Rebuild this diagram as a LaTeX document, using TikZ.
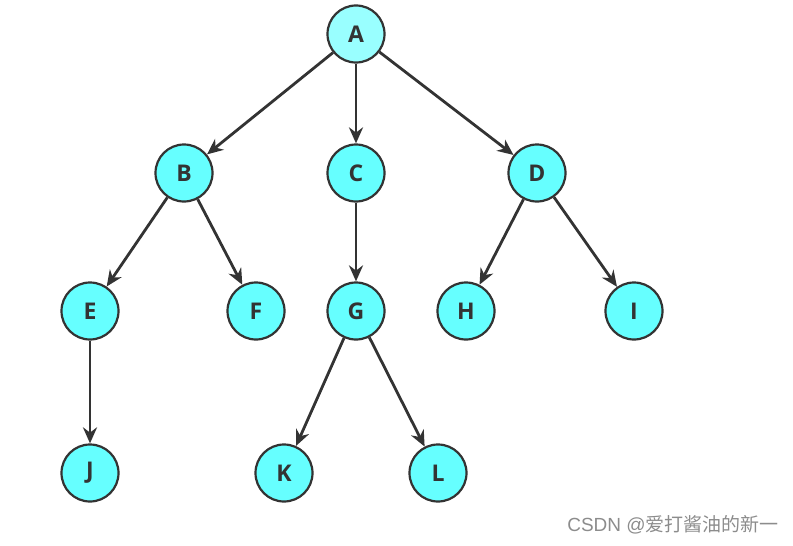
\documentclass[tikz,border=0pt]{standalone}
\usepackage{fontspec}
\setmainfont{Liberation Sans}
\newfontfamily\nodefont{Open Sans}
\newfontfamily\cjk{Noto Sans CJK SC}
\usetikzlibrary{arrows.meta}
\definecolor{nodefill}{RGB}{102,255,255}
\definecolor{rootfill}{RGB}{153,255,255}
\definecolor{edge}{RGB}{51,51,51}
\tikzset{
  tnode/.style={circle, draw=edge, line width=2.2pt, fill=nodefill, minimum size=57pt, inner sep=0pt, font=\nodefont\fontsize{23}{23}\selectfont\bfseries, text=edge},
  conn/.style={draw=edge, line width=2.8pt, -{Stealth[length=16pt,width=14pt]}}
}
\begin{document}
\begin{tikzpicture}[x=1pt,y=-1pt]
\useasboundingbox (0,0) rectangle (793,546);
\node[tnode, fill=rootfill] (A) at (356,34) {A};
\node[tnode] (B) at (184,173) {B};
\node[tnode] (C) at (356,173) {C};
\node[tnode] (D) at (537,173) {D};
\node[tnode] (E) at (90,311) {E};
\node[tnode] (F) at (256,311) {F};
\node[tnode] (G) at (356,311) {G};
\node[tnode] (H) at (466,311) {H};
\node[tnode] (I) at (634,311) {I};
\node[tnode] (J) at (90,473) {J};
\node[tnode] (K) at (284,473) {K};
\node[tnode] (L) at (438,473) {L};
\draw[conn] (A) -- (B);
\draw[conn] (A) -- (C);
\draw[conn] (A) -- (D);
\draw[conn] (B) -- (E);
\draw[conn] (B) -- (F);
\draw[conn] (C) -- (G);
\draw[conn] (D) -- (H);
\draw[conn] (D) -- (I);
\draw[conn] (E) -- (J);
\draw[conn] (G) -- (K);
\draw[conn] (G) -- (L);
\node[text=black!45, font=\fontsize{19}{19}\selectfont, inner sep=0pt] (wm) at (673,525) {CSDN @{\cjk 爱打酱油的新一}};
\end{tikzpicture}
\end{document}
